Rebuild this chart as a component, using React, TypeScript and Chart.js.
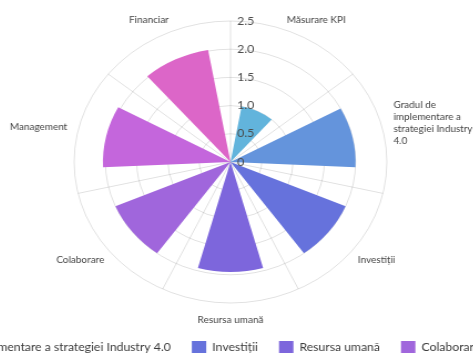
import React, { useEffect, useRef } from "react";
import { Chart, registerables } from "chart.js";

Chart.register(...registerables);

// ---- data ----
const categories = [
  "Măsurare KPI",
  "Gradul de implementare a strategiei Industry 4.0",
  "Investiții",
  "Resursa umană",
  "Colaborare",
  "Management",
  "Financiar",
];
const pointLabelLines = [
  ["Măsurare KPI"],
  ["Gradul de", "implementare a", "strategiei Industry", "4.0"],
  ["Investiții"],
  ["Resursa umană"],
  ["Colaborare"],
  ["Management"],
  ["Financiar"],
];
const values = [1.0, 2.0, 2.0, 1.95, 2.0, 2.04, 2.02];
const colors = ["#62b4dc", "#6494dc", "#6672dc", "#7d66dc", "#a066dc", "#c466dc", "#dc66c8"];
const tickValues = [0, 0.5, 1.0, 1.5, 2.0, 2.5];
const tickLabels = ["0", "0.5", "1.0", "1.5", "2.0", "2.5"];

// ---- layout constants ----
const W0 = 1000; // drawing width
const H = 363; // drawing height
const STRETCH = 1.109; // horizontal stretch of the picture
const LEFT = 230.5 - (W0 / 2) * STRETCH;
const TOP = 0;
const SECTOR = 360 / categories.length;
const WEDGE = 31;
const GAP = SECTOR - WEDGE;
const FONT = "Lato, 'Open Sans', sans-serif";
const LABEL_GAP = 10.6;
const LABEL_LH = 12;

// interleave a gap element before each wedge so wedges are centred in their sector
const labels14 = categories.flatMap((c) => ["", c]);
const data14 = values.flatMap((v) => [0, v]);
const colors14 = colors.flatMap((c) => ["rgba(0,0,0,0)", c]);

const textPlugin = {
  id: "polarTexts",
  afterDraw(chart: any) {
    const scale = chart.scales.r;
    const ctx = chart.ctx;
    ctx.save();
    // radial tick labels, just right of the vertical axis line
    ctx.font = `11px ${FONT}`;
    ctx.fillStyle = "#4a4a4a";
    ctx.textAlign = "left";
    ctx.textBaseline = "middle";
    tickValues.forEach((v, i) => {
      const d = scale.getDistanceFromCenterForValue(v);
      ctx.fillText(tickLabels[i], scale.xCenter + 6, scale.yCenter - d);
    });
    // category labels around the circle
    ctx.font = `9px ${FONT}`;
    ctx.fillStyle = "#444";
    pointLabelLines.forEach((lines, i) => {
      const idx = 2 * i + 1;
      const theta = ((idx * 360) / labels14.length) * (Math.PI / 180);
      const pt = scale.getPointPosition(idx, scale.drawingArea + LABEL_GAP);
      const w = Math.max(...lines.map((l) => ctx.measureText(l).width));
      const hw = w / 2;
      const hh = (lines.length * LABEL_LH) / 2;
      const cx = pt.x + hw * Math.sin(theta);
      const cy = pt.y - hh * Math.cos(theta);
      lines.forEach((line, j) => {
        ctx.fillText(line, cx - hw, cy - hh + LABEL_LH * (j + 0.5));
      });
    });
    ctx.restore();
  },
};

export default function App() {
  const ref = useRef<HTMLCanvasElement | null>(null);

  useEffect(() => {
    if (!ref.current) return;
    const chart = new Chart(ref.current, {
      type: "polarArea",
      data: {
        labels: labels14,
        datasets: [
          {
            data: data14,
            backgroundColor: colors14,
            borderWidth: 0,
            angle: (ctx: any) =>
              ctx.dataIndex % 2 === 1 ? WEDGE : ctx.dataIndex === 0 ? GAP / 2 : GAP,
          } as any,
        ],
      },
      options: {
        responsive: false,
        animation: false,
        devicePixelRatio: 1,
        layout: { padding: { top: 14, bottom: 0, left: 0, right: 0 } },
        scales: {
          r: {
            z: 1,
            min: 0,
            max: 2.5,
            ticks: { stepSize: 0.5, display: false },
            grid: { circular: true, color: "rgba(0,0,0,0.12)", lineWidth: 1 },
            angleLines: {
              display: true,
              color: (ctx: any) => (ctx.index % 2 === 0 ? "rgba(0,0,0,0.12)" : "rgba(0,0,0,0)"),
              lineWidth: (ctx: any) => (ctx.index % 2 === 0 ? 1 : 0),
            },
            // invisible placeholder label at the bottom reserves room for the category text
            pointLabels: {
              display: true,
              padding: 1,
              font: { family: FONT, size: 9, lineHeight: "12px" },
              color: "rgba(0,0,0,0)",
              callback: (_label: any, index: number) => (index === 7 ? [" "] : []),
            },
          } as any,
        },
        plugins: {
          legend: {
            display: true,
            position: "bottom",
            labels: {
              font: { family: FONT, size: 11 },
              color: "#3a3a3a",
              boxWidth: 13,
              boxHeight: 12,
              useBorderRadius: true,
              borderRadius: 2,
              padding: 19,
              filter: (item: any) => item.index % 2 === 1,
            },
          } as any,
          tooltip: { enabled: false },
        },
      },
      plugins: [textPlugin],
    });
    return () => chart.destroy();
  }, []);

  return (
    <div
      style={{
        position: "fixed",
        left: 0,
        top: 0,
        width: 473,
        height: 356,
        overflow: "hidden",
        background: "#fff",
      }}
    >
      <canvas
        ref={ref}
        width={W0}
        height={H}
        style={{
          position: "absolute",
          left: `${LEFT}px`,
          top: `${TOP}px`,
          width: `${W0 * STRETCH}px`,
          height: `${H}px`,
        }}
      />
    </div>
  );
}
